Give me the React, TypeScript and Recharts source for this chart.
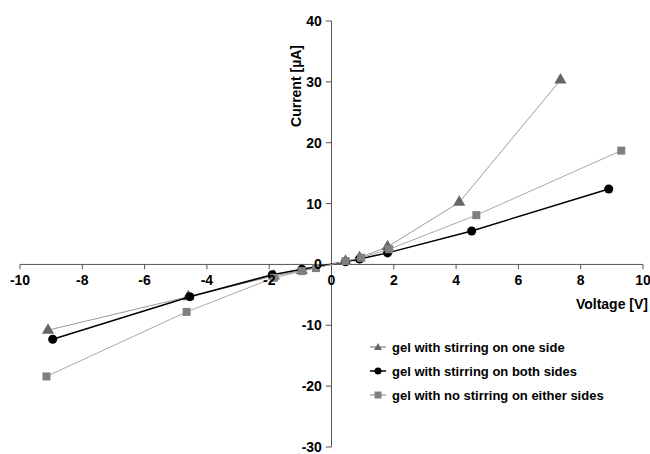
import React from "react";
import {
  ScatterChart,
  Scatter,
  XAxis,
  YAxis,
  ZAxis,
  ReferenceLine,
  Legend,
} from "recharts";

// Voltage [V] / Current [µA] readings per series
const oneSideV = [-9.1, -4.6, -1.85, -0.95, 0.45, 0.9, 1.8, 4.1, 7.35];
const oneSideI = [-10.8, -5.3, -1.9, -1.0, 0.5, 1.1, 2.9, 10.2, 30.3];

const bothSidesV = [-8.95, -4.55, -1.9, -0.95, 0.45, 0.9, 1.8, 4.5, 8.9];
const bothSidesI = [-12.3, -5.3, -1.7, -0.8, 0.45, 0.9, 1.9, 5.5, 12.4];

const noStirV = [-9.15, -4.65, -1.85, -0.95, -0.5, 0.45, 0.95, 1.85, 4.65, 9.3];
const noStirI = [-18.4, -7.8, -2.2, -1.1, -0.6, 0.55, 1.1, 2.5, 8.1, 18.7];

const xTicks = [-10, -8, -6, -4, -2, 0, 2, 4, 6, 8, 10];
const yTicks = [-30, -20, -10, 0, 10, 20, 30, 40];

const FONT = '"Liberation Sans Narrow", "Arial Narrow", "Liberation Sans", Arial, sans-serif';
const AXIS = "#555";

const toPoints = (xs: number[], ys: number[]) => xs.map((x, i) => ({ x, y: ys[i] }));

const series = [
  { name: "gel with stirring on one side", data: toPoints(oneSideV, oneSideI), fill: "#666", line: "#9a9a9a", width: 1, shape: "triangle" },
  { name: "gel with stirring on both sides", data: toPoints(bothSidesV, bothSidesI), fill: "#000", line: "#000", width: 1.5, shape: "circle" },
  { name: "gel with no stirring on either sides", data: toPoints(noStirV, noStirI), fill: "#808080", line: "#a8a8a8", width: 1, shape: "square" },
];

const LegendMarker = ({ shape, fill, line }: any) => (
  <svg width={16} height={10} style={{ marginRight: 6 }}>
    <line x1={0} y1={5} x2={16} y2={5} stroke={line} strokeWidth={1.5} />
    {shape === "triangle" && <polygon points="8,1 12,8 4,8" fill={fill} />}
    {shape === "circle" && <circle cx={8} cy={5} r={3.5} fill={fill} />}
    {shape === "square" && <rect x={4.5} y={1.5} width={7} height={7} fill={fill} />}
  </svg>
);

// legend is drawn in series order, not payload order
const renderLegend = () => (
  <div style={{ fontFamily: FONT, fontWeight: "bold", fontSize: 13, color: "#000" }}>
    {series.map((s) => (
      <div key={s.name} style={{ display: "flex", alignItems: "center", height: 24 }}>
        <LegendMarker shape={s.shape} fill={s.fill} line={s.line} />
        <span>{s.name}</span>
      </div>
    ))}
  </div>
);

export default function App() {
  return (
    <div style={{ position: "absolute", left: 0, top: 0, width: 650, height: 454, background: "#fff" }}>
      <ScatterChart width={650} height={454} margin={{ top: 21, right: 7, bottom: 7, left: 20 }}>
        <XAxis type="number" dataKey="x" domain={[-10, 10]} ticks={xTicks} hide />
        <YAxis type="number" dataKey="y" domain={[-30, 40]} ticks={yTicks} hide />
        <ZAxis range={[45, 45]} />
        <ReferenceLine y={0} stroke={AXIS} strokeWidth={1} />
        <ReferenceLine x={0} stroke={AXIS} strokeWidth={1} />
        {xTicks.map((t) => (
          <ReferenceLine
            key={"xt" + t}
            segment={[{ x: t, y: 0 }, { x: t, y: -0.8 }]}
            stroke={AXIS}
            label={{ value: String(t), position: "bottom", offset: 6, fill: "#000", fontSize: 14, fontWeight: "bold", fontFamily: FONT }}
          />
        ))}
        {yTicks.map((t) => (
          <ReferenceLine
            key={"yt" + t}
            segment={[{ x: -0.18, y: t }, { x: 0, y: t }]}
            stroke={AXIS}
            label={{ value: String(t), position: "left", offset: 4, fill: "#000", fontSize: 14, fontWeight: "bold", fontFamily: FONT }}
          />
        ))}
        {series.map((s) => (
          <Scatter
            key={s.name}
            name={s.name}
            data={s.data}
            fill={s.fill}
            shape={s.shape as any}
            line={{ stroke: s.line, strokeWidth: s.width }}
            lineType="joint"
            isAnimationActive={false}
            legendType={s.shape as any}
          />
        ))}
        <Legend
          layout="vertical"
          verticalAlign="middle"
          align="center"
          content={renderLegend}
          wrapperStyle={{ position: "absolute", left: 370, top: 335, width: 280 }}
        />
      </ScatterChart>
      <div
        style={{
          position: "absolute",
          left: 296,
          top: 86,
          transform: "translate(-50%, -50%) rotate(-90deg)",
          fontFamily: FONT,
          fontWeight: "bold",
          fontSize: 14,
          whiteSpace: "nowrap",
        }}
      >
        Current [µA]
      </div>
      <div
        style={{
          position: "absolute",
          right: 2,
          top: 296,
          fontFamily: FONT,
          fontWeight: "bold",
          fontSize: 14,
          whiteSpace: "nowrap",
        }}
      >
        Voltage [V]
      </div>
    </div>
  );
}
